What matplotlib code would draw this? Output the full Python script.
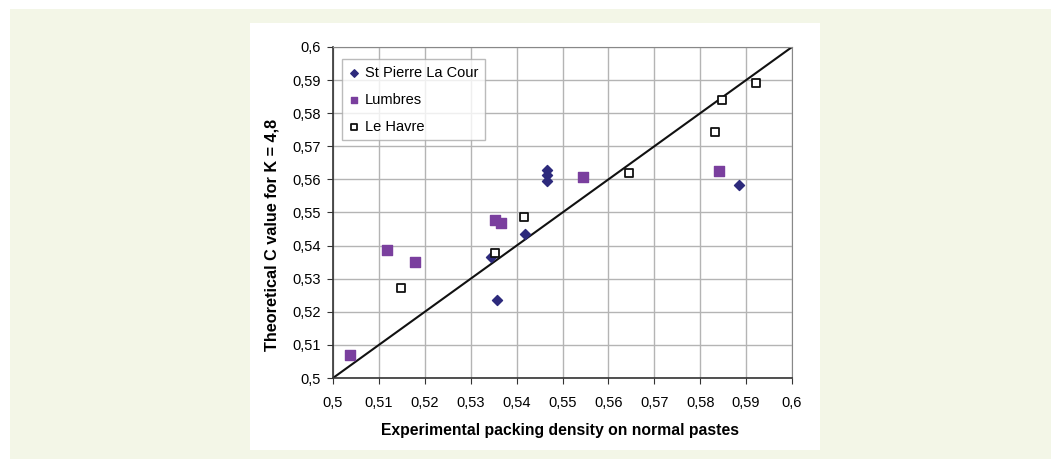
import matplotlib
matplotlib.use('Agg')
import matplotlib.pyplot as plt
from matplotlib.patches import Rectangle
from matplotlib.ticker import FuncFormatter

plt.rcParams['font.family'] = ['Liberation Sans', 'DejaVu Sans']

# St Pierre La Cour
stp_x = [0.5344, 0.5357, 0.5418, 0.5466, 0.5466, 0.5466, 0.5885]
stp_y = [0.5366, 0.5236, 0.5435, 0.5628, 0.5612, 0.5595, 0.5583]
# Lumbres
lum_x = [0.5037, 0.5118, 0.5179, 0.5353, 0.5366, 0.5545, 0.5841]
lum_y = [0.5069, 0.5386, 0.5349, 0.5476, 0.5468, 0.5607, 0.5624]
# Le Havre
lh_x = [0.5148, 0.5353, 0.5416, 0.5645, 0.5832, 0.5848, 0.5921]
lh_y = [0.5272, 0.5378, 0.5485, 0.5619, 0.5742, 0.5840, 0.5891]

ticks = [0.5, 0.51, 0.52, 0.53, 0.54, 0.55, 0.56, 0.57, 0.58, 0.59, 0.6]

fig = plt.figure(figsize=(10.61, 4.59), dpi=100)
fig.patch.set_facecolor('white')
# page background and white panel
fig.patches.append(Rectangle((10 / 1061, 0), 1041 / 1061, 450 / 459,
                             transform=fig.transFigure, facecolor='#f3f6e7',
                             edgecolor='none', zorder=-2))
fig.patches.append(Rectangle((250 / 1061, 9 / 459), 570 / 1061, 427 / 459,
                             transform=fig.transFigure, facecolor='white',
                             edgecolor='none', zorder=-1))

ax = fig.add_axes([333 / 1061, 1 - 378 / 459, 459 / 1061, 331 / 459])
ax.set_xlim(0.5, 0.6)
ax.set_ylim(0.5, 0.6)
ax.set_xticks(ticks)
ax.set_yticks(ticks)
fmt = FuncFormatter(lambda v, p: ('%g' % round(v, 2)).replace('.', ','))
ax.xaxis.set_major_formatter(fmt)
ax.yaxis.set_major_formatter(fmt)
ax.grid(True, color='#b4b4b4', linewidth=1.0)
ax.set_axisbelow(True)
ax.tick_params(labelsize=10.5, length=4, color='#333333')
ax.tick_params(axis='x', pad=9)
ax.tick_params(axis='y', pad=5)

ax.plot([0.5, 0.6], [0.5, 0.6], color='#111111', linewidth=1.5, zorder=2)
ax.scatter(stp_x, stp_y, marker='D', s=26, color='#2d2a7c', label='St Pierre La Cour', zorder=3)
ax.scatter(lum_x, lum_y, marker='s', s=42, color='#7a3f9e', label='Lumbres', zorder=3)
ax.scatter(lh_x, lh_y, marker='s', s=32, facecolor='white', edgecolor='#111111',
           linewidth=1.3, label='Le Havre', zorder=3)

for side in ['left', 'bottom']:
    ax.spines[side].set_color('#333333')
    ax.spines[side].set_linewidth(1.2)
for side in ['top', 'right']:
    ax.spines[side].set_color('#888888')

ax.set_xlabel('Experimental packing density on normal pastes', fontsize=11.3,
              fontweight='bold')
ax.xaxis.set_label_coords(0.494, -0.137)
ax.set_ylabel('Theoretical C value for K = 4,8', fontsize=11.7, fontweight='bold')
ax.yaxis.set_label_coords(-0.116, 0.432)

leg = ax.legend(loc='upper left', bbox_to_anchor=(0.0196, 0.9637), fontsize=10.5,
                frameon=True, fancybox=False, edgecolor='#aaaaaa',
                borderaxespad=0, handletextpad=0.3, borderpad=0.45,
                labelspacing=0.9, handlelength=0.8, markerscale=0.75)
leg.get_frame().set_linewidth(1.0)

fig.savefig('out.png', dpi=100)
